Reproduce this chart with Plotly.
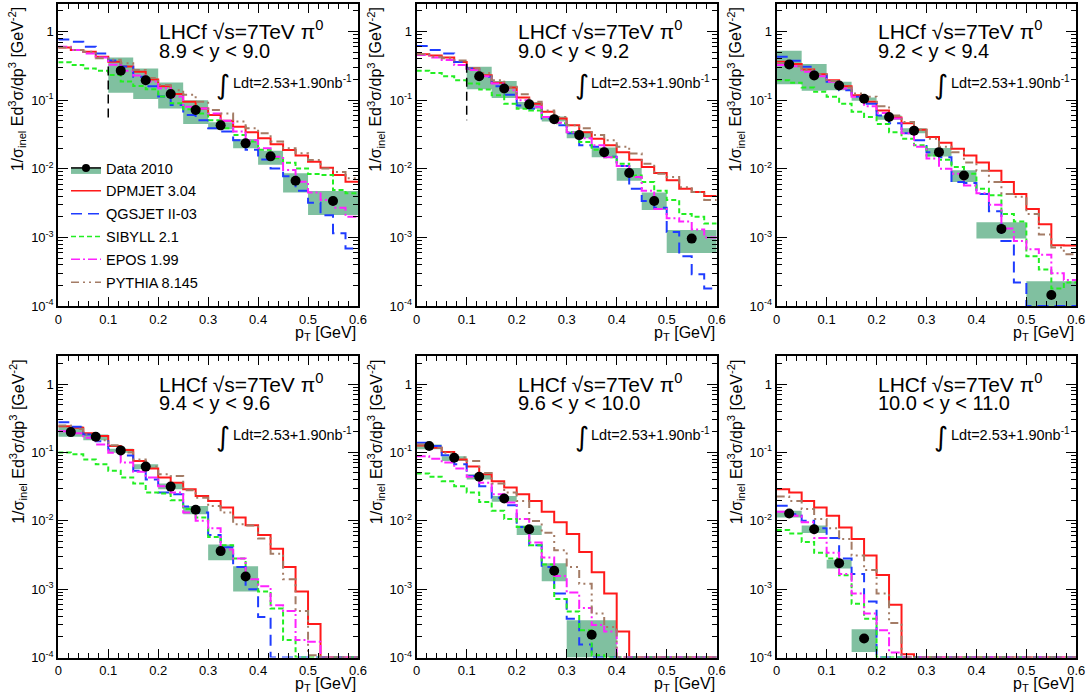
import plotly.graph_objects as go

# ---------------- data ----------------
pt_edges = [0.0, 0.025, 0.05, 0.075, 0.1, 0.125, 0.15, 0.175, 0.2, 0.225, 0.25, 0.275,
            0.3, 0.325, 0.35, 0.375, 0.4, 0.425, 0.45, 0.475, 0.5, 0.525, 0.55, 0.575, 0.6]

rapidity_labels = ["8.9 < y < 9.0", "9.0 < y < 9.2", "9.2 < y < 9.4",
                   "9.4 < y < 9.6", "9.6 < y < 10.0", "10.0 < y < 11.0"]

model_names = ["DPMJET 3.04", "QGSJET II-03", "SIBYLL 2.1", "EPOS 1.99", "PYTHIA 8.145"]

# panel 1 : 8.9 < y < 9.0
dpm1 = [0.585, 0.54, 0.51, 0.43, 0.365, 0.31, 0.26, 0.20, 0.16, 0.123, 0.095, 0.076, 0.061, 0.050, 0.041, 0.034, 0.028, 0.0228, 0.0188, 0.0156, 0.0127, 0.0104, 0.0081, 0.0065]
qgs1 = [0.77, 0.71, 0.60, 0.48, 0.38, 0.31, 0.22, 0.16, 0.113, 0.085, 0.061, 0.051, 0.039, 0.035, 0.026, 0.019, 0.0137, 0.0101, 0.0078, 0.0048, 0.0032, 0.0021, 0.00115, 0.00069]
sib1 = [0.357, 0.327, 0.29, 0.27, 0.233, 0.187, 0.161, 0.144, 0.113, 0.090, 0.074, 0.064, 0.051, 0.039, 0.031, 0.025, 0.019, 0.0142, 0.0123, 0.0101, 0.0084, 0.0081, 0.0049, 0.0044]
epo1 = [0.60, 0.54, 0.48, 0.42, 0.33, 0.27, 0.23, 0.187, 0.15, 0.113, 0.080, 0.076, 0.064, 0.050, 0.035, 0.026, 0.020, 0.015, 0.0096, 0.0065, 0.0045, 0.0035, 0.0027, 0.0020]
pyt1 = [0.585, 0.54, 0.51, 0.41, 0.39, 0.345, 0.275, 0.21, 0.167, 0.14, 0.12, 0.095, 0.072, 0.064, 0.049, 0.039, 0.033, 0.025, 0.020, 0.0168, 0.0134, 0.0101, 0.009, 0.0073]
dat_edges1 = [0.1, 0.15, 0.2, 0.25, 0.3, 0.35, 0.4, 0.45, 0.5, 0.6]
dat_val1 = [0.27, 0.195, 0.123, 0.072, 0.043, 0.0235, 0.0152, 0.0067, 0.0034]
dat_lo1 = [0.129, 0.104, 0.076, 0.045, 0.0377, 0.0199, 0.0115, 0.0045, 0.00212]
dat_hi1 = [0.42, 0.29, 0.182, 0.10, 0.0476, 0.0272, 0.0184, 0.0086, 0.00475]

# panel 2 : 9.0 < y < 9.2
dpm2 = [0.466, 0.45, 0.42, 0.36, 0.29, 0.232, 0.18, 0.153, 0.11, 0.089, 0.068, 0.054, 0.043, 0.034, 0.0275, 0.022, 0.0175, 0.0135, 0.0106, 0.0087, 0.0068, 0.0051, 0.0046, 0.004]
qgs2 = [0.617, 0.54, 0.48, 0.36, 0.29, 0.22, 0.16, 0.12, 0.084, 0.075, 0.054, 0.043, 0.033, 0.022, 0.021, 0.015, 0.011, 0.0051, 0.0034, 0.0027, 0.0012, 0.00053, 0.00029, 0.00018]
sib2 = [0.27, 0.25, 0.224, 0.196, 0.175, 0.143, 0.118, 0.089, 0.075, 0.071, 0.057, 0.046, 0.034, 0.0246, 0.019, 0.0148, 0.0119, 0.008, 0.0064, 0.0048, 0.0035, 0.0022, 0.002, 0.0016]
epo2 = [0.456, 0.42, 0.385, 0.325, 0.275, 0.224, 0.175, 0.14, 0.10, 0.08, 0.057, 0.047, 0.034, 0.028, 0.022, 0.0148, 0.011, 0.0076, 0.0048, 0.0026, 0.0019, 0.0017, 0.0013, 0.001]
pyt2 = [0.466, 0.43, 0.41, 0.38, 0.29, 0.25, 0.196, 0.157, 0.122, 0.095, 0.071, 0.057, 0.043, 0.039, 0.031, 0.026, 0.021, 0.0167, 0.0119, 0.0085, 0.0076, 0.0054, 0.0046, 0.0035]
dat_edges2 = [0.1, 0.15, 0.2, 0.25, 0.3, 0.35, 0.4, 0.45, 0.5, 0.6]
dat_val2 = [0.224, 0.148, 0.087, 0.053, 0.031, 0.0175, 0.0087, 0.0034, 0.00096]
dat_lo2 = [0.145, 0.108, 0.075, 0.049, 0.028, 0.0148, 0.0067, 0.0025, 0.00059]
dat_hi2 = [0.308, 0.19, 0.094, 0.058, 0.035, 0.0205, 0.0103, 0.0045, 0.00128]

# panel 3 : 9.2 < y < 9.4
dpm3 = [0.364, 0.337, 0.28, 0.24, 0.196, 0.16, 0.118, 0.095, 0.071, 0.056, 0.046, 0.037, 0.029, 0.024, 0.0196, 0.0156, 0.0124, 0.0094, 0.0064, 0.0043, 0.0026, 0.00155, 0.00077, 0.00076]
qgs3 = [0.43, 0.376, 0.307, 0.232, 0.186, 0.14, 0.112, 0.089, 0.06, 0.046, 0.033, 0.026, 0.0175, 0.0148, 0.0064, 0.0062, 0.0043, 0.0024, 0.00089, 0.00022, 0, 0, 0, 0]
sib3 = [0.196, 0.18, 0.153, 0.133, 0.112, 0.089, 0.068, 0.057, 0.045, 0.034, 0.0275, 0.022, 0.0156, 0.0135, 0.0106, 0.0085, 0.0051, 0.0041, 0.0022, 0.0017, 0.00053, 0.00034, 0.00018, 0.00022]
epo3 = [0.325, 0.314, 0.26, 0.224, 0.186, 0.148, 0.112, 0.082, 0.065, 0.054, 0.033, 0.021, 0.0141, 0.010, 0.0085, 0.0057, 0.0044, 0.003, 0.00135, 0.00089, 0.00067, 0.00056, 0.0003, 0.00024]
pyt3 = [0.35, 0.314, 0.275, 0.24, 0.19, 0.153, 0.125, 0.112, 0.082, 0.06, 0.048, 0.037, 0.0275, 0.021, 0.0175, 0.0124, 0.0094, 0.0064, 0.0043, 0.0039, 0.0022, 0.0011, 0.00071, 0.00057]
dat_edges3 = [0.0, 0.05, 0.1, 0.15, 0.2, 0.25, 0.3, 0.35, 0.4, 0.5, 0.6]
dat_val3 = [0.333, 0.23, 0.164, 0.105, 0.057, 0.036, 0.0175, 0.0080, 0.00133, 0.000145]
dat_lo3 = [0.171, 0.137, 0.14, 0.098, 0.052, 0.033, 0.0151, 0.0064, 0.00096, 0.0001]
dat_hi3 = [0.527, 0.337, 0.186, 0.11, 0.06, 0.039, 0.0201, 0.0095, 0.00166, 0.00023]

# panel 4 : 9.4 < y < 9.6
dpm4 = [0.242, 0.229, 0.19, 0.173, 0.124, 0.108, 0.075, 0.058, 0.043, 0.036, 0.029, 0.023, 0.0195, 0.0156, 0.0112, 0.0086, 0.0062, 0.0039, 0.0021, 0.00092, 0.00031, 0, 0, 0]
qgs4 = [0.277, 0.237, 0.183, 0.146, 0.11, 0.09, 0.0537, 0.04, 0.0259, 0.0245, 0.0162, 0.0132, 0.0062, 0.0041, 0.0021, 0.001, 0.00039, 0, 0, 0, 0, 0, 0, 0]
sib4 = [0.1, 0.094, 0.079, 0.067, 0.0537, 0.043, 0.035, 0.0259, 0.025, 0.02, 0.0148, 0.0112, 0.0058, 0.0044, 0.0028, 0.00139, 0.00092, 0.00052, 0.00018, 0, 0, 0, 0, 0]
epo4 = [0.204, 0.19, 0.164, 0.131, 0.099, 0.071, 0.052, 0.043, 0.032, 0.0259, 0.0132, 0.01, 0.0078, 0.0038, 0.0028, 0.0014, 0.0011, 0.00058, 0.00048, 0.00018, 0.00017, 0, 0, 0]
pyt4 = [0.247, 0.22, 0.183, 0.151, 0.127, 0.1, 0.079, 0.062, 0.048, 0.045, 0.028, 0.0218, 0.0164, 0.0132, 0.0089, 0.0085, 0.0055, 0.0033, 0.0014, 0.00048, 0.000108, 0, 0, 0]
dat_edges4 = [0.0, 0.05, 0.1, 0.15, 0.2, 0.25, 0.3, 0.35, 0.4]
dat_val4 = [0.198, 0.169, 0.107, 0.062, 0.0316, 0.0145, 0.0036, 0.00153]
dat_lo4 = [0.169, 0.151, 0.099, 0.057, 0.029, 0.0125, 0.00265, 0.00092]
dat_hi4 = [0.242, 0.183, 0.113, 0.067, 0.035, 0.0165, 0.0045, 0.00216]

# panel 5 : 9.6 < y < 10.0
dpm5 = [0.126, 0.117, 0.101, 0.079, 0.062, 0.048, 0.038, 0.0306, 0.0245, 0.0195, 0.0135, 0.0095, 0.0064, 0.0035, 0.00177, 0.00086, 0.00024, 0, 0, 0, 0, 0, 0, 0]
qgs5 = [0.138, 0.124, 0.091, 0.067, 0.045, 0.032, 0.0218, 0.0168, 0.0081, 0.0044, 0.0021, 0.00086, 0.00037, 0.000155, 0, 0, 0, 0, 0, 0, 0, 0, 0, 0]
sib5 = [0.049, 0.044, 0.038, 0.032, 0.026, 0.0188, 0.014, 0.0106, 0.0081, 0.0044, 0.0023, 0.00072, 0.00047, 0.00025, 0.000108, 0, 0, 0, 0, 0, 0, 0, 0, 0]
epo5 = [0.088, 0.081, 0.071, 0.058, 0.044, 0.036, 0.0245, 0.0185, 0.0106, 0.0048, 0.0029, 0.00156, 0.00089, 0.00053, 0.0003, 0.00024, 0, 0, 0, 0, 0, 0, 0, 0]
pyt5 = [0.131, 0.117, 0.099, 0.084, 0.075, 0.05, 0.035, 0.026, 0.0195, 0.0099, 0.0067, 0.0037, 0.0021, 0.0012, 0.00044, 0.00028, 0, 0, 0, 0, 0, 0, 0, 0]
dat_edges5 = [0.0, 0.05, 0.1, 0.15, 0.2, 0.25, 0.3, 0.4]
dat_val5 = [0.124, 0.0836, 0.044, 0.0212, 0.0075, 0.00186, 0.000215]
dat_lo5 = [0.111, 0.075, 0.040, 0.019, 0.0062, 0.0013, 0.0001]
dat_hi5 = [0.131, 0.088, 0.048, 0.023, 0.0085, 0.0024, 0.00035]

# panel 6 : 10.0 < y < 11.0
dpm6 = [0.029, 0.026, 0.0195, 0.0156, 0.0118, 0.008, 0.0054, 0.0031, 0.00161, 0.00059, 0.000112, 0, 0, 0, 0, 0, 0, 0, 0, 0, 0, 0, 0, 0]
qgs6 = [0.0166, 0.0125, 0.01, 0.0078, 0.0056, 0.0028, 0.00166, 0.00066, 0, 0, 0, 0, 0, 0, 0, 0, 0, 0, 0, 0, 0, 0, 0, 0]
sib6 = [0.0073, 0.0065, 0.0049, 0.0034, 0.0028, 0.0016, 0.00061, 0.00037, 0, 0, 0, 0, 0, 0, 0, 0, 0, 0, 0, 0, 0, 0, 0, 0]
epo6 = [0.0136, 0.0118, 0.0095, 0.0056, 0.0034, 0.00166, 0.00086, 0.00044, 0.00025, 0.000118, 0, 0, 0, 0, 0, 0, 0, 0, 0, 0, 0, 0, 0, 0]
pyt6 = [0.0226, 0.0195, 0.0148, 0.0106, 0.0078, 0.0054, 0.0031, 0.0019, 0.00086, 0.00032, 0, 0, 0, 0, 0, 0, 0, 0, 0, 0, 0, 0, 0, 0]
dat_edges6 = [0.0, 0.05, 0.1, 0.15, 0.2]
dat_val6 = [0.0128, 0.0075, 0.0024, 0.00019]
dat_lo6 = [0.0112, 0.0066, 0.002, 0.00012]
dat_hi6 = [0.014, 0.0085, 0.0027, 0.00026]

# acceptance-edge marker (black dashed) in the first two panels
edge_x = [0.1, 0.1]
edge_y1 = [0.31, 0.051]
edge_y2 = [0.34, 0.051]

y_tick_vals = [1e-4, 1e-3, 1e-2, 1e-1, 1]
y_tick_text = ["10<sup>-4</sup>", "10<sup>-3</sup>", "10<sup>-2</sup>", "10<sup>-1</sup>", "1"]
x_tick_vals = [0, 0.1, 0.2, 0.3, 0.4, 0.5, 0.6]
x_tick_text = ["0", "0.1", "0.2", "0.3", "0.4", "0.5", "0.6"]

# ---------------- assembly ----------------
panels = [
    dict(models=[dpm1, qgs1, sib1, epo1, pyt1], de=dat_edges1, dv=dat_val1, dl=dat_lo1, dh=dat_hi1, edge=edge_y1),
    dict(models=[dpm2, qgs2, sib2, epo2, pyt2], de=dat_edges2, dv=dat_val2, dl=dat_lo2, dh=dat_hi2, edge=edge_y2),
    dict(models=[dpm3, qgs3, sib3, epo3, pyt3], de=dat_edges3, dv=dat_val3, dl=dat_lo3, dh=dat_hi3, edge=None),
    dict(models=[dpm4, qgs4, sib4, epo4, pyt4], de=dat_edges4, dv=dat_val4, dl=dat_lo4, dh=dat_hi4, edge=None),
    dict(models=[dpm5, qgs5, sib5, epo5, pyt5], de=dat_edges5, dv=dat_val5, dl=dat_lo5, dh=dat_hi5, edge=None),
    dict(models=[dpm6, qgs6, sib6, epo6, pyt6], de=dat_edges6, dv=dat_val6, dl=dat_lo6, dh=dat_hi6, edge=None),
]

W, H = 1087, 700
YMIN_LOG, YMAX_LOG = -4, 0.41
YFLOOR = 10 ** YMIN_LOG
FONT = "Liberation Sans, Arial, sans-serif"
BOX_COLOR = "#80c0a0"

styles = [
    dict(color="#ff1a1a", dash="solid"),
    dict(color="#1f3cff", dash="11px,6px"),
    dict(color="#22ee22", dash="5px,3px"),
    dict(color="#ff22ff", dash="9px,3px,2px,3px"),
    dict(color="#a47c66", dash="8px,4px,2px,4px,2px,4px"),
]

col_px = [(58.3, 358.0), (416.7, 716.7), (776.7, 1076.3)]
row_px = [(3.5, 306.0), (356.0, 657.5)]

fig = go.Figure()
layout_axes = {}
annotations = []

minor_y = []
for e in range(-4, 1):
    for m in range(2, 10):
        v = m * 10 ** e
        if v < 10 ** YMAX_LOG:
            minor_y.append(v)

for i, p in enumerate(panels):
    r, c = divmod(i, 3)
    n = i + 1
    xa = "x" if n == 1 else f"x{n}"
    ya = "y" if n == 1 else f"y{n}"
    x0, x1 = col_px[c]
    t0, t1 = row_px[r]
    axis_common = dict(showline=True, linecolor="black", linewidth=2, mirror="allticks",
                       ticks="inside", tickcolor="black", tickwidth=1, showgrid=False, zeroline=False,
                       automargin=False,
                       tickfont=dict(family=FONT, size=13, color="black"))
    layout_axes["xaxis" if n == 1 else f"xaxis{n}"] = dict(
        domain=[x0 / W, x1 / W], anchor=ya, range=[0, 0.6],
        tickmode="array", tickvals=x_tick_vals, ticktext=x_tick_text, ticklen=9,
        minor=dict(ticks="inside", dtick=0.02, tick0=0, ticklen=5, tickcolor="black", showgrid=False),
        **axis_common)
    layout_axes["yaxis" if n == 1 else f"yaxis{n}"] = dict(
        domain=[1 - t1 / H, 1 - t0 / H], anchor=xa, type="log", range=[YMIN_LOG, YMAX_LOG],
        tickmode="array", tickvals=y_tick_vals, ticktext=y_tick_text, ticklen=10,
        minor=dict(ticks="inside", tickmode="array", tickvals=minor_y, ticklen=5, tickcolor="black", showgrid=False),
        **axis_common)

    # systematic-error boxes
    bx, by = [], []
    for k in range(len(p["dv"])):
        a, b = p["de"][k], p["de"][k + 1]
        lo, hi = max(p["dl"][k], YFLOOR), p["dh"][k]
        bx += [a, b, b, a, a, None]
        by += [lo, lo, hi, hi, lo, None]
    fig.add_trace(go.Scatter(x=bx, y=by, mode="none", fill="toself", fillcolor=BOX_COLOR,
                             hoverinfo="skip", showlegend=False, xaxis=xa, yaxis=ya))

    # model step histograms
    for j, vals in enumerate(p["models"]):
        yy = [v if v > 0 else YFLOOR for v in vals]
        fig.add_trace(go.Scatter(
            x=pt_edges, y=yy + [yy[-1]], mode="lines", line_shape="hv",
            line=dict(color=styles[j]["color"], width=2, dash=styles[j]["dash"]),
            name=model_names[j], showlegend=False, xaxis=xa, yaxis=ya))

    if p["edge"] is not None:
        fig.add_trace(go.Scatter(x=edge_x, y=p["edge"], mode="lines",
                                 line=dict(color="black", width=1.5, dash="9px,5px"),
                                 showlegend=False, hoverinfo="skip", xaxis=xa, yaxis=ya))

    # data points
    cx = [(p["de"][k] + p["de"][k + 1]) / 2 for k in range(len(p["dv"]))]
    fig.add_trace(go.Scatter(x=cx, y=p["dv"], mode="markers",
                             marker=dict(color="black", size=10, symbol="circle"),
                             showlegend=False, xaxis=xa, yaxis=ya))

    # text annotations
    dx, dy = f"{xa} domain", f"{ya} domain"
    annotations += [
        dict(x=0.33, y=0.912, xref=dx, yref=dy, xanchor="left", yanchor="middle", showarrow=False,
             text="LHCf √s=7TeV π<sup>0</sup>", font=dict(family=FONT, size=21, color="black")),
        dict(x=0.33, y=0.843, xref=dx, yref=dy, xanchor="left", yanchor="middle", showarrow=False,
             text=rapidity_labels[i], font=dict(family=FONT, size=20, color="black")),
        dict(x=0.52, y=0.732, xref=dx, yref=dy, xanchor="left", yanchor="middle", showarrow=False,
             text="∫", font=dict(family="DejaVu Sans", size=27, color="black")),
        dict(x=0.575, y=0.742, xref=dx, yref=dy, xanchor="left", yanchor="middle", showarrow=False,
             text="Ldt=2.53+1.90nb<sup>-1</sup>", font=dict(family=FONT, size=14.5, color="black")),
    ]
    # axis titles
    annotations += [
        dict(x=(x0 - 41) / W, y=1 - (t0 + 1) / H, xref="paper", yref="paper", xanchor="center", yanchor="top",
             textangle=-90, showarrow=False,
             text="1/σ<sub>inel</sub> Ed<sup>3</sup>σ/dp<sup>3</sup> [GeV<sup>-2</sup>]",
             font=dict(family=FONT, size=16, color="black")),
        dict(x=x1 / W, y=1 - (t1 + 27) / H, xref="paper", yref="paper", xanchor="right", yanchor="middle",
             showarrow=False, text="p<sub>T</sub> [GeV]", font=dict(family=FONT, size=16, color="black")),
    ]

# legend entries (panel 1)
fig.add_trace(go.Scatter(x=[None], y=[None], mode="lines+markers", fill="toself", fillcolor=BOX_COLOR,
                         line=dict(color="black", width=1.5), marker=dict(color="black", size=8),
                         name="Data 2010", legendgroup="g0", showlegend=True))
for j, nm in enumerate(model_names):
    fig.add_trace(go.Scatter(x=[None], y=[None], mode="lines",
                             line=dict(color=styles[j]["color"], width=1.5, dash=styles[j]["dash"]),
                             name=nm, legendgroup=f"g{j+1}", showlegend=True))

fig.update_layout(
    width=W, height=H, margin=dict(l=0, r=0, t=0, b=0),
    paper_bgcolor="white", plot_bgcolor="white",
    font=dict(family=FONT, size=14, color="black"),
    annotations=annotations,
    legend=dict(x=66 / W, y=1 - 152 / H, xanchor="left", yanchor="top", bgcolor="rgba(0,0,0,0)",
                font=dict(family=FONT, size=14.5, color="black"), tracegroupgap=1, itemwidth=30),
    **layout_axes,
)

fig.write_html("out.html", config={"displayModeBar": False},
               post_script="document.body.style.margin='0';document.body.style.overflow='hidden';")
